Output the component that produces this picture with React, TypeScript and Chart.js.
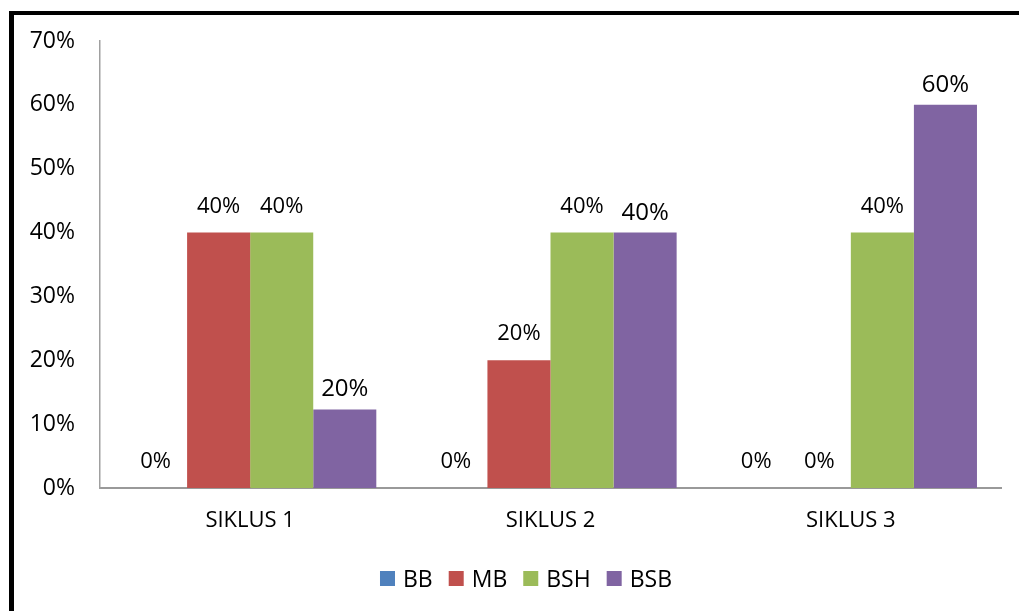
import React, { useEffect, useRef } from "react";
import { Chart, registerables } from "chart.js";

Chart.register(...registerables);

const CATEGORIES = ["SIKLUS 1", "SIKLUS 2", "SIKLUS 3"];
const SERIES_NAMES = ["BB", "MB", "BSH", "BSB"];
const BB_VALUES = [0, 0, 0];
const MB_VALUES = [40, 20, 0];
const BSH_VALUES = [40, 40, 40];
const BSB_VALUES = [12.3, 40, 60];
const BB_LABELS = ["0%", "0%", "0%"];
const MB_LABELS = ["40%", "20%", "0%"];
const BSH_LABELS = ["40%", "40%", "40%"];
const BSB_LABELS = ["20%", "40%", "60%"];
const Y_TICKS = [0, 10, 20, 30, 40, 50, 60, 70];

const COLORS = ["#4F81BD", "#C0504D", "#9BBB59", "#8064A2"];
const FONT = "'Open Sans', 'Noto Sans', sans-serif";

export default function App() {
  const ref = useRef<HTMLCanvasElement | null>(null);

  useEffect(() => {
    if (!ref.current) return;
    const values = [BB_VALUES, MB_VALUES, BSH_VALUES, BSB_VALUES];
    const labels = [BB_LABELS, MB_LABELS, BSH_LABELS, BSB_LABELS];

    const labelPlugin = {
      id: "customLabels",
      afterDatasetsDraw(chart: any) {
        const ctx = chart.ctx;
        ctx.save();
        ctx.fillStyle = "#000";
        ctx.textAlign = "center";
        ctx.textBaseline = "alphabetic";
        chart.data.datasets.forEach((ds: any, di: number) => {
          const meta = chart.getDatasetMeta(di);
          meta.data.forEach((bar: any, i: number) => {
            const big = di === 3;
            ctx.font = (big ? "24px " : "22px ") + FONT;
            const off = big ? 13 : 20;
            ctx.fillText(labels[di][i], bar.x, bar.y - off);
          });
        });
        ctx.restore();
      },
      afterDraw(chart: any) {
        const ctx = chart.ctx;
        ctx.save();
        ctx.font = "23px " + FONT;
        ctx.textBaseline = "alphabetic";
        ctx.textAlign = "left";
        const box = 15;
        const gap = 8;
        const spacing = 16;
        const widths = SERIES_NAMES.map((n) => ctx.measureText(n).width);
        let total = 0;
        widths.forEach((w, i) => {
          total += box + gap + w + (i < widths.length - 1 ? spacing : 0);
        });
        let x = 526 - total / 2;
        const yBox = 571;
        SERIES_NAMES.forEach((n, i) => {
          ctx.fillStyle = COLORS[i];
          ctx.fillRect(x, yBox, box, box);
          ctx.fillStyle = "#000";
          ctx.fillText(n, x + box + gap, yBox + box + 1);
          x += box + gap + widths[i] + spacing;
        });
        ctx.restore();
      },
    };

    const chart = new Chart(ref.current, {
      type: "bar",
      data: {
        labels: CATEGORIES,
        datasets: SERIES_NAMES.map((name, i) => ({
          label: name,
          data: values[i],
          backgroundColor: COLORS[i],
          borderWidth: 0,
          categoryPercentage: 0.84,
          barPercentage: 1.0,
        })),
      },
      options: {
        animation: false,
        responsive: false,
        maintainAspectRatio: false,
        layout: { padding: { left: 0, right: 18, top: 41, bottom: 0 } },
        plugins: {
          legend: { display: false },
          tooltip: { enabled: false },
        },
        scales: {
          x: {
            grid: { display: false, drawTicks: false },
            border: { display: true, color: "#999999", width: 2 },
            ticks: {
              color: "#000",
              font: { family: FONT, size: 22 },
              padding: 20,
            },
            afterFit: (s: any) => {
              s.height = 123;
            },
          },
          y: {
            min: 0,
            max: 70,
            grid: { display: false, drawTicks: false },
            border: { display: true, color: "#A0A0A0", width: 1.5 },
            afterBuildTicks: (s: any) => {
              s.ticks = Y_TICKS.map((v) => ({ value: v }));
            },
            ticks: {
              color: "#000",
              font: { family: FONT, size: 23 },
              padding: 25,
              callback: (v: any) => v + "%",
            },
            afterFit: (s: any) => {
              s.width = 100;
            },
          },
        },
      },
      plugins: [labelPlugin],
    });
    return () => chart.destroy();
  }, []);

  return (
    <div
      style={{
        position: "fixed",
        left: 0,
        top: 0,
        width: 1019,
        height: 611,
        background: "#fff",
        overflow: "hidden",
      }}
    >
      <canvas
        ref={ref}
        width={1019}
        height={611}
        style={{ position: "absolute", left: 0, top: 0, width: 1019, height: 611 }}
      />
      <div
        style={{
          position: "absolute",
          left: 9,
          top: 11,
          width: 1100,
          height: 700,
          borderLeft: "5px solid #000",
          borderTop: "4px solid #000",
          pointerEvents: "none",
        }}
      />
    </div>
  );
}
